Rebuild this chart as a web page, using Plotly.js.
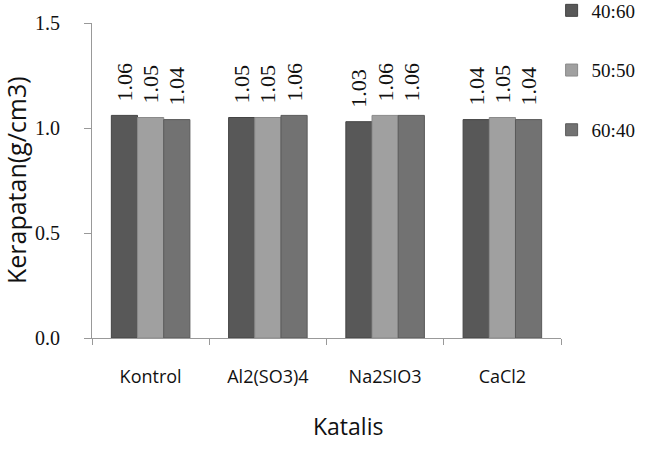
<!DOCTYPE html>
<html><head><meta charset="utf-8">
<script src="https://cdn.plot.ly/plotly-3.0.1.min.js"></script>
<style>html,body{margin:0;padding:0;background:#fff}</style>
</head><body><div id="chart" style="width:664px;height:449px"></div>
<script>
const categories = ["Kontrol", "Al2(SO3)4", "Na2SIO3", "CaCl2"];
const seriesNames = ["40:60", "50:50", "60:40"];
const s4060 = [1.06, 1.05, 1.03, 1.04];
const s5050 = [1.05, 1.05, 1.06, 1.05];
const s6040 = [1.04, 1.06, 1.06, 1.04];
const yTicks = [0, 0.5, 1.0, 1.5];

const colors = ["#585858", "#a0a0a0", "#727272"];
const lines = ["#444", "#8a8a8a", "#5a5a5a"];
const serif = "'Liberation Serif', 'Times New Roman', serif";
const sans = "'Open Sans', 'DejaVu Sans', sans-serif";

const data = [s4060, s5050, s6040].map((vals, i) => ({
  type: "bar",
  name: seriesNames[i],
  legendgroup: "g" + i,
  x: categories,
  y: vals,
  text: vals.map(v => "\u00a0\u00a0" + v.toFixed(2)),
  textposition: "outside",
  textangle: -90,
  constraintext: "none",
  cliponaxis: false,
  textfont: {family: serif, size: 22, color: "#111"},
  marker: {color: colors[i], line: {color: lines[i], width: 1}}
}));

const layout = {
  width: 664, height: 449,
  margin: {l: 92, r: 103, t: 23, b: 111, autoexpand: false},
  paper_bgcolor: "#fff", plot_bgcolor: "#fff",
  barmode: "group", bargap: 0.33, bargroupgap: 0,
  showlegend: true,
  legend: {x: 0.98, xanchor: "left", y: 1.1, yanchor: "top",
           font: {family: serif, size: 19, color: "#111"},
           tracegroupgap: 32, itemwidth: 30},
  xaxis: {
    type: "category", showline: true, linecolor: "#999", linewidth: 1,
    ticks: "outside", tickson: "boundaries", ticklen: 6, tickcolor: "#999",
    ticklabelstandoff: 22,
    tickfont: {family: sans, size: 18, color: "#111"},
    showgrid: false, zeroline: false
  },
  yaxis: {
    range: [0, 1.5], tickvals: yTicks, tickformat: ".1f",
    showline: true, linecolor: "#999", linewidth: 1,
    ticks: "outside", ticklen: 7, tickcolor: "#999",
    ticklabelstandoff: 20,
    tickfont: {family: serif, size: 20, color: "#111"},
    showgrid: false, zeroline: false
  },
  annotations: [
    {text: "Kerapatan(g/cm3)", xref: "paper", yref: "paper",
     x: -0.163, y: 0.5, xanchor: "center", yanchor: "middle", textangle: -90,
     showarrow: false, font: {family: sans, size: 25, color: "#111"}},
    {text: "Katalis", xref: "paper", yref: "paper",
     x: 0.545, y: -0.28, xanchor: "center", yanchor: "middle",
     showarrow: false, font: {family: sans, size: 23, color: "#111"}}
  ]
};

Plotly.newPlot("chart", data, layout, {displayModeBar: false});
</script></body></html>
